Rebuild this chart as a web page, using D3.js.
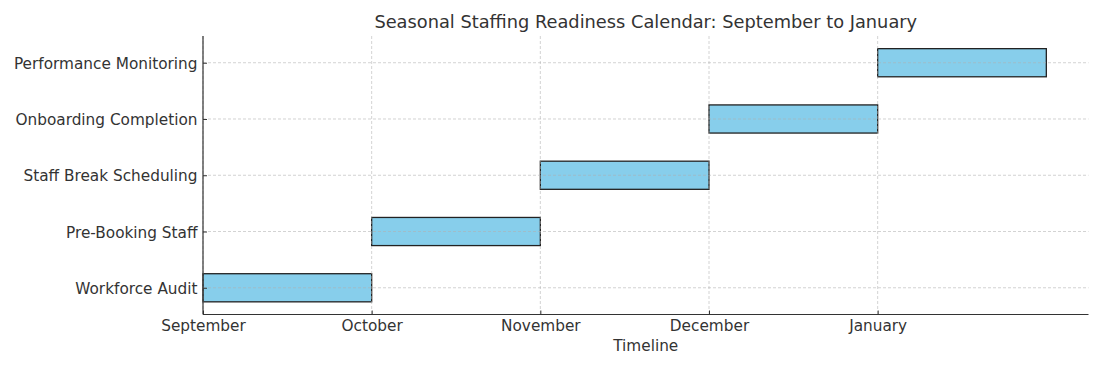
<!DOCTYPE html>
<html><head><meta charset="utf-8">
<script src="https://cdn.jsdelivr.net/npm/d3@7"></script>
<style>body{margin:0;background:#fff}svg{display:block}text{font-family:"DejaVu Sans",sans-serif;fill:#333}</style>
</head><body><svg id="c" width="1102" height="366"></svg>
<script>
const tasks = ["Workforce Audit","Pre-Booking Staff","Staff Break Scheduling","Onboarding Completion","Performance Monitoring"];
const starts = [0,1,2,3,4];
const durations = [1,1,1,1,1];
const monthTicks = [0,1,2,3,4];
const monthLabels = ["September","October","November","December","January"];

const svg = d3.select("#c");
const L=203,R=1088.5,T=36,B=314.5;
const x = d3.scaleLinear().domain([0,5.25]).range([L,R]);
const y = d3.scaleLinear().domain([-0.475,4.475]).range([B,T]);
const barH = y(0)-y(0.5);

const g = svg.append("g");
g.selectAll("rect.bar").data(tasks).join("rect")
  .attr("x",(d,i)=>x(starts[i])).attr("y",(d,i)=>y(i)-barH/2)
  .attr("width",(d,i)=>x(starts[i]+durations[i])-x(starts[i])).attr("height",barH)
  .attr("fill","#87CEEB").attr("stroke","#222").attr("stroke-width",1.3);
g.selectAll("line.vg").data(monthTicks).join("line")
  .attr("x1",d=>x(d)).attr("x2",d=>x(d)).attr("y1",T).attr("y2",B)
  .attr("stroke","#b0b0b0").attr("stroke-opacity",0.7).attr("stroke-width",0.8).attr("stroke-dasharray","3,2");
g.selectAll("line.hg").data(tasks).join("line")
  .attr("x1",L).attr("x2",R).attr("y1",(d,i)=>y(i)).attr("y2",(d,i)=>y(i))
  .attr("stroke","#b0b0b0").attr("stroke-opacity",0.7).attr("stroke-width",0.8).attr("stroke-dasharray","3,2");

const xa = svg.append("g").attr("transform",`translate(0,${B})`)
  .call(d3.axisBottom(x).tickValues(monthTicks).tickFormat((d,i)=>monthLabels[i]).tickSize(-4).tickPadding(5.5).tickSizeOuter(0));
const ya = svg.append("g").attr("transform",`translate(${L},0)`)
  .call(d3.axisLeft(y).tickValues(starts.map((d,i)=>i)).tickFormat(d=>tasks[d]).tickSize(-4).tickPadding(5.5).tickSizeOuter(0));
[xa,ya].forEach(a=>{
  a.selectAll("text").style("font-size","15.3px").attr("fill","#333");
  a.selectAll("line").attr("stroke","#333");
  a.select(".domain").attr("stroke","#333").attr("stroke-width",1.2);
});
ya.selectAll("text").attr("dy","0.36em");
ya.select(".domain").attr("d",`M0,${B}V${T}`);
xa.select(".domain").attr("d",`M${L},0H${R}`);

svg.append("text").attr("x",(L+R)/2).attr("y",28).attr("text-anchor","middle")
  .style("font-size","17.8px").text("Seasonal Staffing Readiness Calendar: September to January");
svg.append("text").attr("x",(L+R)/2).attr("y",351).attr("text-anchor","middle")
  .style("font-size","15.3px").text("Timeline");
</script></body></html>
